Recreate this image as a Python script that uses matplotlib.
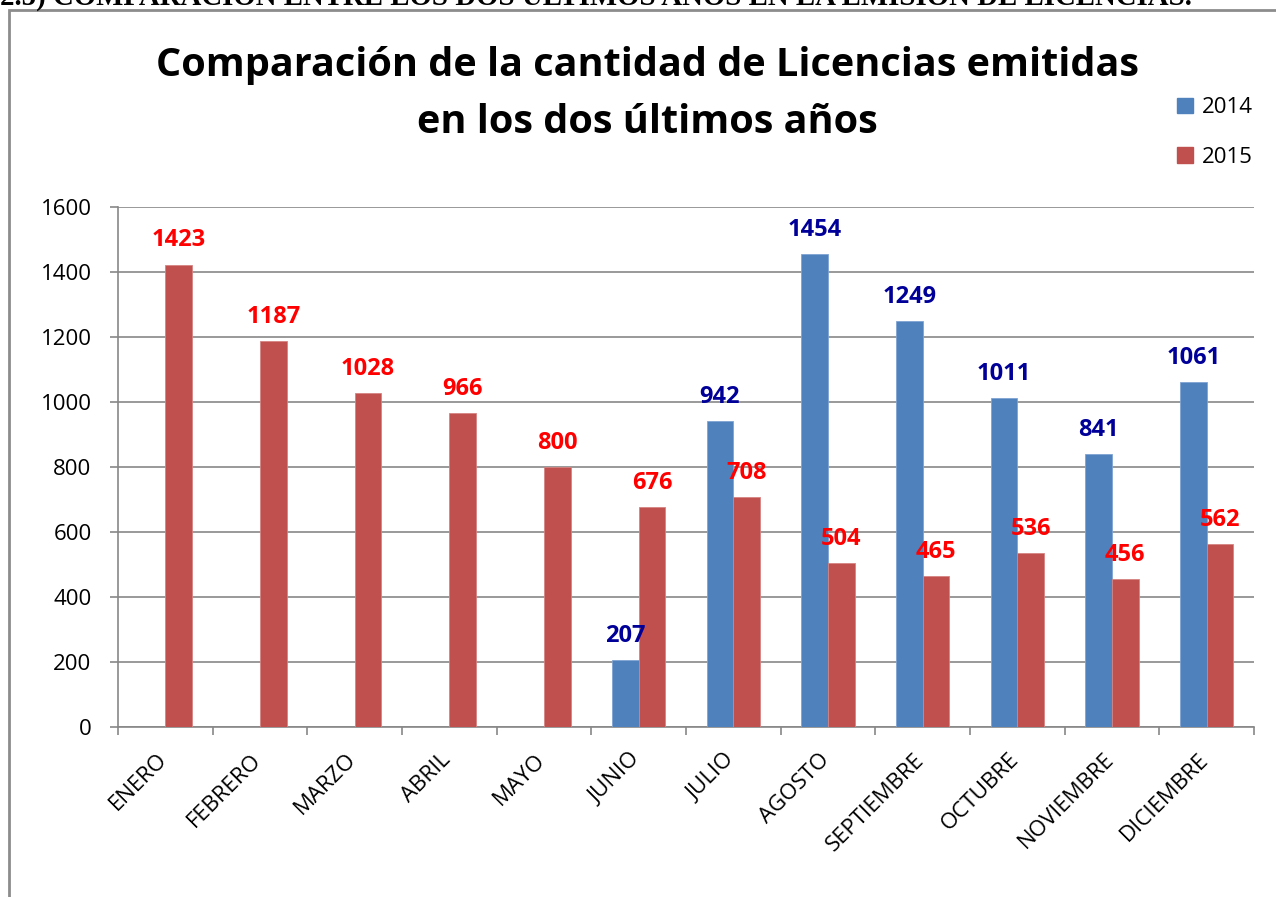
import matplotlib
matplotlib.use("Agg")
import matplotlib.pyplot as plt
import matplotlib.transforms as mtransforms
import numpy as np
from matplotlib.patches import Rectangle, Patch

months = ["ENERO", "FEBRERO", "MARZO", "ABRIL", "MAYO", "JUNIO", "JULIO",
          "AGOSTO", "SEPTIEMBRE", "OCTUBRE", "NOVIEMBRE", "DICIEMBRE"]
v2014 = [None, None, None, None, None, 207, 942, 1454, 1249, 1011, 841, 1061]
v2015 = [1423, 1187, 1028, 966, 800, 676, 708, 504, 465, 536, 456, 562]
yticks = [0, 200, 400, 600, 800, 1000, 1200, 1400, 1600]

title = "Comparación de la cantidad de Licencias emitidas\nen los dos últimos años"
heading = "2.5) COMPARACION ENTRE LOS DOS ULTIMOS AÑOS EN LA EMISION DE LICENCIAS."

W, H = 1276, 897
fig = plt.figure(figsize=(W / 100, H / 100), dpi=100)
plt.rcParams['font.family'] = ['Open Sans', 'DejaVu Sans']

c14 = "#4F81BD"
c15 = "#C0504D"

left, right, top, bottom = 118, 1254, 207, 727
ax = fig.add_axes([left / W, 1 - bottom / H, (right - left) / W, (bottom - top) / H])

x = np.arange(len(months))
bw = 0.282
off = 0.141
x14 = [xi - off for xi, v in zip(x, v2014) if v is not None]
y14 = [v for v in v2014 if v is not None]
ax.bar(x14, y14, width=bw, color=c14, zorder=3, edgecolor="#7FA3D3", linewidth=0.6)
ax.bar(x + off, v2015, width=bw, color=c15, zorder=3, edgecolor="#D58482", linewidth=0.6)

for xi, v in zip(x14, y14):
    ax.annotate(str(v), (xi, v), xytext=(0, 13), textcoords="offset points",
                ha="center", va="baseline", color="#000099", fontsize=17, fontweight="bold")
for xi, v in zip(x + off, v2015):
    ax.annotate(str(v), (xi, v), xytext=(0, 13), textcoords="offset points",
                ha="center", va="baseline", color="#FF0000", fontsize=17, fontweight="bold")

ax.set_xlim(-0.5, len(months) - 0.5)
ax.set_ylim(0, 1600)
ax.set_yticks(yticks)
ax.set_yticklabels([str(t) for t in yticks], fontsize=16)
ax.yaxis.grid(True, color="#878787", linewidth=1.2, zorder=0)
ax.set_axisbelow(True)

ax.set_xticks(x)
ax.set_xticklabels(months, rotation=45, ha="right", rotation_mode="anchor", fontsize=16)
ax.set_xticks(np.arange(-0.5, len(months), 1), minor=True)
ax.tick_params(axis="x", which="major", length=0, pad=16)
ax.tick_params(axis="x", which="minor", length=6, color="#878787", width=1.2)
ax.tick_params(axis="y", length=6, color="#878787", width=1.2, pad=13)
shift = mtransforms.ScaledTranslation(-9 / 100, 0, fig.dpi_scale_trans)
for lab in ax.get_xticklabels():
    lab.set_transform(lab.get_transform() + shift)

for s in ["top", "right"]:
    ax.spines[s].set_visible(False)
ax.spines["left"].set_color("#878787")
ax.spines["bottom"].set_color("#878787")
ax.spines["left"].set_linewidth(1.2)
ax.spines["bottom"].set_linewidth(1.2)

fig.text(647 / W, 1 - 94 / H, title, ha="center", va="center", fontsize=28.5,
         fontweight="bold", linespacing=1.62)

handles = [Patch(color=c14, label="2014"), Patch(color=c15, label="2015")]
fig.legend(handles=handles, loc="upper left", bbox_to_anchor=(1166 / W, 1 - 86 / H),
           frameon=False, fontsize=16, handlelength=0.7, handleheight=0.7,
           handletextpad=0.4, labelspacing=1.3, borderpad=0)

# outer frame
fig.add_artist(Rectangle((9 / W, -0.1), 2.0, 1.1 - 10 / H, transform=fig.transFigure,
                         fill=False, edgecolor="#8C8C8C", linewidth=2, clip_on=False))

# cut-off heading
fig.text(0 / W, 1 - 5 / H, heading, ha="left", va="baseline", fontsize=20.8,
         fontweight="bold", family="Liberation Serif")

fig.savefig("out.png", dpi=100)
